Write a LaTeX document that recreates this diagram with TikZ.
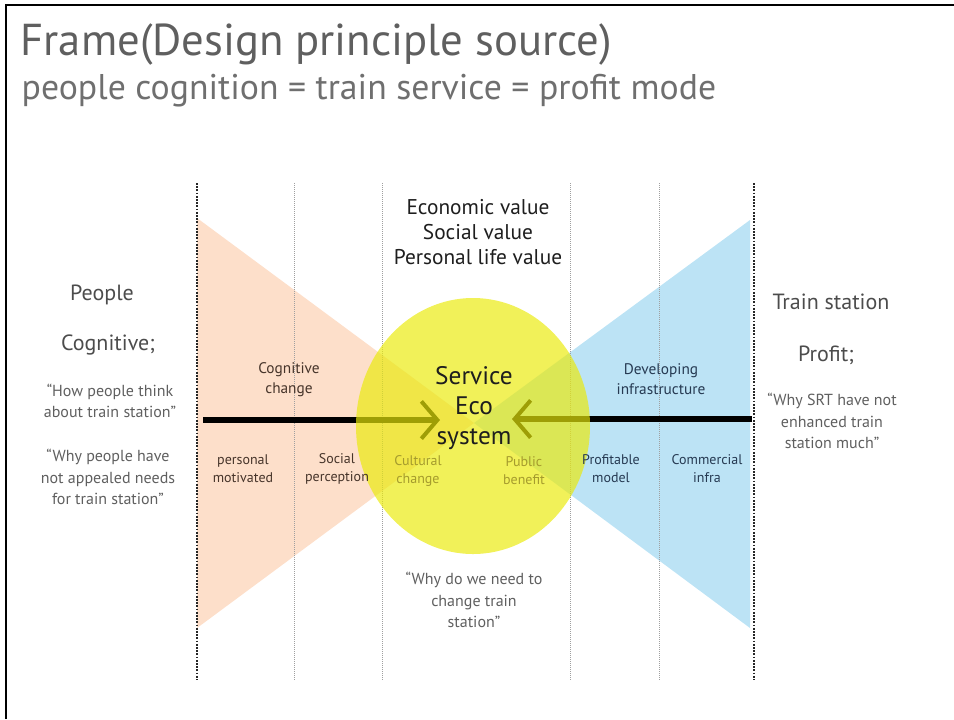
\documentclass[tikz,border=0pt]{standalone}
\usepackage{fontspec}
\setmainfont{PT Sans}
\usetikzlibrary{arrows.meta,positioning}
\definecolor{peach}{RGB}{253,223,202}
\definecolor{sky}{RGB}{188,227,245}
\definecolor{sun}{RGB}{234,234,10}
\definecolor{ink}{RGB}{30,30,30}
\definecolor{slate}{RGB}{95,95,95}
\definecolor{umber}{RGB}{70,52,42}
\definecolor{harbor}{RGB}{38,58,82}
\definecolor{mustard}{RGB}{165,155,45}
\tikzset{
  >={Straight Barb[length=12pt,width=28pt,line width=3pt]},
  col/.style={draw=gray!75,densely dotted,line width=0.5pt},
  edge col/.style={draw=black!85,densely dotted,line width=1.4pt},
  head/.style={font=\fontsize{16.5}{19}\selectfont,text=slate!80!black,align=center},
  quote/.style={font=\fontsize{12}{16}\selectfont,text=slate,align=center},
  tag/.style={font=\fontsize{10.5}{13.5}\selectfont,text=#1,align=center},
  tag/.default=umber,
  stroke/.style={->,line width=3.8pt,draw=#1},
  stroke/.default=black,
}

\begin{document}
\begin{tikzpicture}[x=0.75pt,y=-0.75pt]
  \useasboundingbox (0,0) rectangle (954,719);
  % slide frame
  \draw[line width=1.6pt] (6,719) -- (6,5) -- (954,5);
  \node[anchor=west,font=\fontsize{33.5}{36}\selectfont,text=slate] (title) at (16,45) {Frame(Design principle source)};
  \node[anchor=west,font=\fontsize{26.8}{30}\selectfont,text=slate!90] (sub) at (17,91) {people cognition = train service = profit mode};
  % wedges
  \fill[peach] (197,218) -- (474,423) -- (197,628) -- cycle;
  \fill[sky] (750,220) -- (474,423) -- (750,628) -- cycle;
  \foreach \x in {294,382,570,659}
    \draw[col] (\x,183) -- (\x,680);
  \foreach \x in {197,754}
    \draw[edge col] (\x,183) -- (\x,680);
  % connectors
  \coordinate (lstart) at (203,420);
  \coordinate (ltip) at (440,420);
  \coordinate (rstart) at (752,419);
  \coordinate (rtip) at (512,419);
  \draw[stroke] (lstart) -- (ltip);
  \draw[stroke] (rstart) -- (rtip);
  \fill[sun,fill opacity=0.68] (473,426) ellipse [x radius=117,y radius=128];
  % centre
  \node[font=\fontsize{19}{22.5}\selectfont,text=ink,align=center] (eco) at (474,408) {Service\\Eco\\system};
  \node[font=\fontsize{16}{18.75}\selectfont,text=ink,align=center] (values) at (478,232) {Economic value\\Social value\\Personal life value};
  \node[quote] (need) at (474,600) {“Why do we need to\\change train\\station”};
  % left side
  \node[head] (people) at (102,295) {People};
  \node[head] (cogn) at (108,345) {Cognitive;};
  \node[quote] (think) at (110,401) {“How people think\\about train station”};
  \node[quote] (appeal) at (108,477) {“Why people have\\not appealed needs\\for train station”};
  \node[tag,font=\fontsize{11.5}{15}\selectfont] (cchange) at (289,380) {Cognitive\\change};
  \node[tag] (motiv) at (243,469) {personal\\motivated};
  \node[tag] (percep) at (337,469) {Social\\perception};
  \node[tag=mustard] (cult) at (418,471) {Cultural\\change};
  \node[tag=mustard] (public) at (524,471) {Public\\benefit};
  % right side
  \node[tag=harbor,font=\fontsize{11.5}{15}\selectfont] (infra) at (661,379) {Developing\\infrastructure};
  \node[tag=harbor] (model) at (611,469) {Profitable\\model};
  \node[tag=harbor] (comm) at (707,469) {Commercial\\infra};
  \node[head] (station) at (831,302) {Train station};
  \node[head] (profit) at (826,355) {Profit;};
  \node[quote] (srt) at (832,421) {“Why SRT have not\\enhanced train\\station much”};
\end{tikzpicture}
\end{document}
